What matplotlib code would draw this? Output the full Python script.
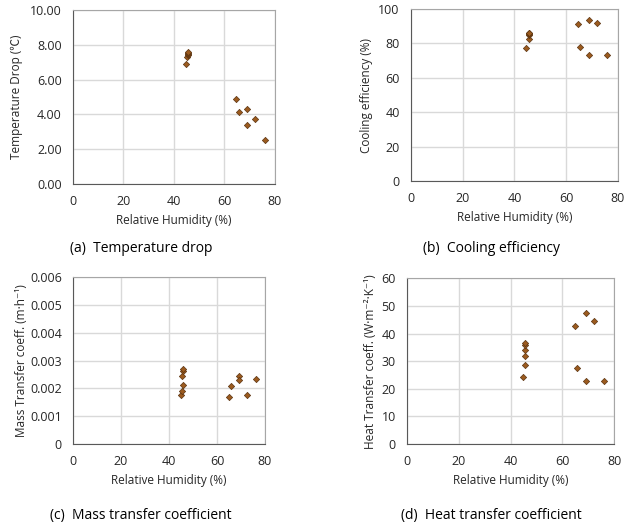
import matplotlib
matplotlib.use("Agg")
import matplotlib.pyplot as plt

plt.rcParams['font.family'] = ['Open Sans', 'Noto Sans CJK KR', 'DejaVu Sans']

# (a) Temperature drop
rh_a = [44.7, 45.3, 45.5, 45.6, 45.6, 45.7, 64.7, 65.7, 69.1, 69.1, 72.3, 76.0]
temp_drop = [6.92, 7.30, 7.40, 7.47, 7.53, 7.58, 4.87, 4.13, 4.30, 3.42, 3.72, 2.55]

# (b) Cooling efficiency
rh_b = [44.6, 45.5, 45.5, 45.6, 45.6, 45.7, 64.6, 65.5, 68.8, 68.7, 72.0, 75.8]
cool_eff = [77.2, 82.3, 84.6, 85.5, 86.0, 86.3, 91.2, 77.8, 93.5, 73.1, 92.0, 73.5]

# (c) Mass transfer coefficient
rh_c = [45.2, 45.6, 45.8, 45.6, 45.7, 45.7, 64.9, 65.8, 69.2, 69.2, 72.6, 76.2]
mass_tc = [0.00176, 0.00191, 0.00212, 0.00245, 0.00262, 0.00269,
           0.00170, 0.00209, 0.00243, 0.00232, 0.00177, 0.00234]

# (d) Heat transfer coefficient
rh_d = [44.8, 45.6, 45.7, 45.7, 45.7, 45.7, 64.9, 65.8, 69.1, 69.1, 72.4, 76.0]
heat_tc = [24.3, 28.7, 32.0, 34.0, 35.9, 36.4, 42.8, 27.4, 47.6, 22.7, 44.4, 22.7]

panels = [
    # x, y, ylim, yticks, ytick format, ylabel, caption, rect, ylabel x, caption pos
    (rh_a, temp_drop, 10, [0, 2, 4, 6, 8, 10], '{:.2f}', 'Temperature Drop (℃)',
     '(a)  Temperature drop', [0.1135, 0.6515, 0.314, 0.3295], -0.282, (0.219, 0.530)),
    (rh_b, cool_eff, 100, [0, 20, 40, 60, 80, 100], '{:.0f}', 'Cooling efficiency (%)',
     '(b)  Cooling efficiency', [0.639, 0.657, 0.322, 0.326], -0.213, (0.764, 0.530)),
    (rh_c, mass_tc, 0.006, [0, 0.001, 0.002, 0.003, 0.004, 0.005, 0.006], '{:.3f}',
     'Mass Transfer coeff. (m·h⁻¹)',
     '(c)  Mass transfer coefficient', [0.1135, 0.159, 0.2986, 0.316], -0.27, (0.219, 0.023)),
    (rh_d, heat_tc, 60, [0, 10, 20, 30, 40, 50, 60], '{:.0f}',
     'Heat Transfer coeff. (W·m⁻²·K⁻¹)',
     '(d)  Heat transfer coefficient', [0.633, 0.159, 0.322, 0.314], -0.174, (0.764, 0.023)),
]

fig = plt.figure(figsize=(6.43, 5.28), dpi=100)

for x, y, ytop, yticks, fmt, ylabel, caption, rect, ylx, cpos in panels:
    ax = fig.add_axes(rect)
    ax.set_xlim(0, 80)
    ax.set_ylim(0, ytop)
    ax.set_xticks([0, 20, 40, 60, 80])
    ax.set_yticks(yticks)
    ax.set_yticklabels(['0' if v == 0 and fmt == '{:.3f}' else fmt.format(v) for v in yticks])
    ax.grid(True, color='#d9d9d9', linewidth=1)
    ax.set_axisbelow(True)
    ax.tick_params(length=0, pad=8, labelsize=9, labelcolor='#262626')
    for side in ['left', 'bottom']:
        ax.spines[side].set_color('#595959')
    for side in ['top', 'right']:
        ax.spines[side].set_color('#a6a6a6')

    ax.plot(x, y, linestyle='none', marker='D', markersize=3.2,
            markerfacecolor='#9c5b1f', markeredgecolor='#5a3310', markeredgewidth=0.5)

    ax.set_xlabel('Relative Humidity (%)', fontsize=8.5, color='#262626')
    ax.set_ylabel(ylabel, fontsize=8.5, color='#262626')
    h_px = rect[3] * 528
    ax.xaxis.set_label_coords(0.5, -36.5 / h_px)
    ax.xaxis.label.set_va('center')
    ax.yaxis.set_label_coords(ylx, 0.5)
    ax.yaxis.label.set_va('center')

    fig.text(cpos[0], cpos[1], caption, fontsize=10, ha='center', va='center', color='black')

fig.savefig('out.png', dpi=100)
